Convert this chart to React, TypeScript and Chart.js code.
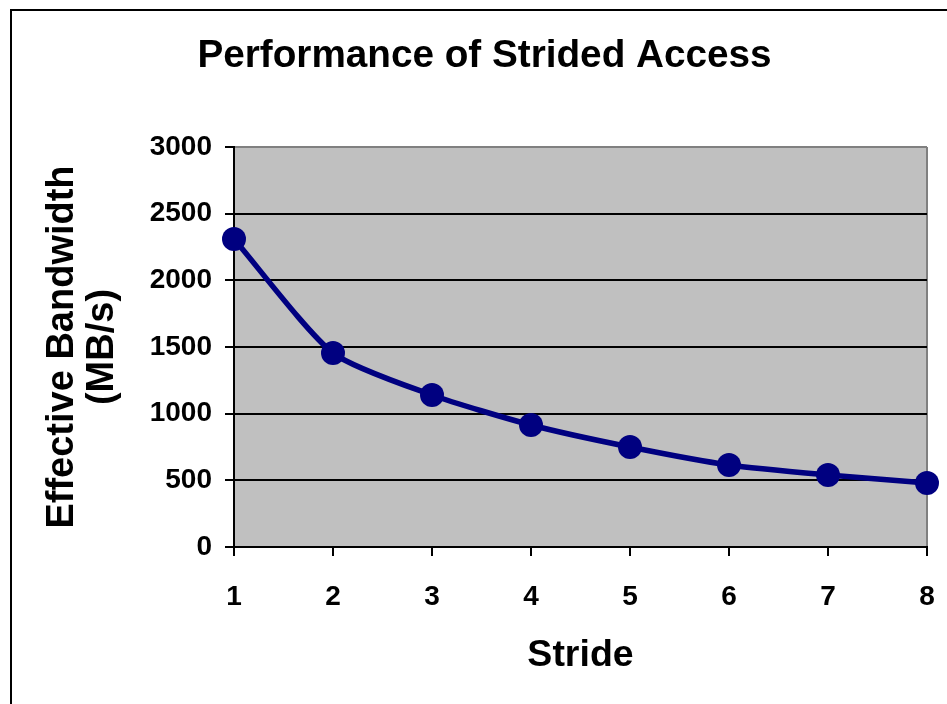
import React, { useEffect, useRef } from "react";
import { Chart, registerables } from "chart.js";

Chart.register(...registerables);

const strides = ["1", "2", "3", "4", "5", "6", "7", "8"];
const bandwidth = [2310, 1455, 1140, 915, 750, 615, 540, 480];
const yTicks = [0, 500, 1000, 1500, 2000, 2500, 3000];

const FONT = "'Liberation Sans', Arial, sans-serif";

const plotBg = {
  id: "plotBg",
  beforeDraw(chart: any) {
    const { ctx, chartArea } = chart;
    ctx.save();
    ctx.fillStyle = "#C0C0C0";
    ctx.fillRect(chartArea.left, chartArea.top, chartArea.right - chartArea.left, chartArea.bottom - chartArea.top);
    ctx.restore();
  },
};

export default function App() {
  const ref = useRef<HTMLCanvasElement | null>(null);
  useEffect(() => {
    if (!ref.current) return;
    const chart = new Chart(ref.current, {
      type: "line",
      data: {
        labels: strides,
        datasets: [
          {
            data: bandwidth,
            borderColor: "#000080",
            backgroundColor: "#000080",
            borderWidth: 5.5,
            pointRadius: 12,
            pointBorderWidth: 0,
            pointBackgroundColor: "#000080",
            tension: 0.22,
            clip: false as any,
          },
        ],
      },
      options: {
        animation: false,
        responsive: false,
        devicePixelRatio: 1,
        layout: { padding: { left: 22, right: 0, top: 0, bottom: 0 } },
        plugins: {
          legend: { display: false },
          tooltip: { enabled: false },
          title: {
            display: true,
            text: "Performance of Strided Access",
            color: "#000",
            font: { family: FONT, size: 38.7, weight: "bold", lineHeight: 1.2 },
            padding: { top: 33, bottom: 67.56 },
          },
        },
        scales: {
          x: {
            type: "category",
            offset: false,
            afterFit(scale: any) {
              scale.height = 157;
              scale.paddingRight = 20;
              scale.paddingLeft = 0;
            },
            border: { color: "#000", width: 2 },
            grid: {
              drawOnChartArea: true,
              color: (c: any) => (c.index === strides.length - 1 ? "#808080" : "rgba(0,0,0,0)"),
              lineWidth: 2,
              tickColor: "#000",
              tickLength: 9,
              tickWidth: 2,
            } as any,
            ticks: {
              color: "#000",
              font: { family: FONT, size: 28, weight: "bold" },
              padding: 24,
              maxRotation: 0,
              autoSkip: false,
            },
            title: {
              display: true,
              text: "Stride",
              color: "#000",
              font: { family: FONT, size: 37.5, weight: "bold", lineHeight: 1.2 },
              padding: { top: 0, bottom: 26 },
            },
          },
          y: {
            min: 0,
            max: 3000,
            afterFit(scale: any) {
              scale.width = 212;
            },
            afterBuildTicks(scale: any) {
              scale.ticks = yTicks.map((v) => ({ value: v }));
            },
            border: { color: "#000", width: 2 },
            grid: {
              color: (c: any) => (c.tick && c.tick.value === 3000 ? "#808080" : "#000"),
              lineWidth: 2,
              tickColor: "#000",
              tickLength: 9,
              tickWidth: 2,
            } as any,
            ticks: {
              color: "#000",
              font: { family: FONT, size: 28, weight: "bold" },
              padding: 13,
              callback: (v: any) => String(v),
            },
            title: {
              display: true,
              text: ["Effective Bandwidth", "(MB/s)"],
              color: "#000",
              font: { family: FONT, size: 38, weight: "bold", lineHeight: 1.05 },
              padding: { top: 21, bottom: 0 },
            },
          },
        },
      },
      plugins: [plotBg],
    });
    return () => chart.destroy();
  }, []);

  return (
    <div style={{ position: "fixed", left: 0, top: 0, width: 947, height: 704, overflow: "hidden", background: "#fff" }}>
      <div
        style={{
          position: "absolute",
          left: 10,
          top: 9,
          width: 1200,
          height: 1200,
          border: "2px solid #000",
          boxSizing: "border-box",
        }}
      />
      <canvas ref={ref} width={947} height={704} style={{ position: "absolute", left: 0, top: 0 }} />
    </div>
  );
}
